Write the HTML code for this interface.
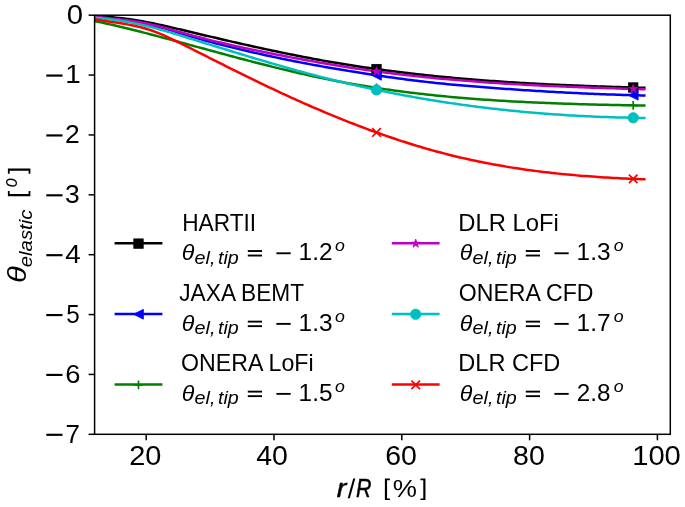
<!DOCTYPE html><html><head><meta charset="utf-8"><title>theta elastic vs r/R</title><style>html,body{margin:0;padding:0;background:#fff;overflow:hidden;}svg{display:block;}text{font-family:"Liberation Sans",sans-serif;fill:#000;}.gt{filter:grayscale(1);}</style></head><body>
<svg width="685" height="507" viewBox="0 0 685 507">
<rect width="685" height="507" fill="#fff"/>
<defs><clipPath id="ax"><rect x="94.6" y="15.2" width="575.7" height="419.1"/></clipPath></defs>
<g clip-path="url(#ax)" fill="none" stroke-linejoin="round" stroke-linecap="square">
<path d="M94.6,15.93 L97.7,16.13 L100.7,16.34 L103.8,16.57 L106.9,16.81 L110.0,17.07 L113.0,17.35 L116.1,17.65 L119.2,17.98 L122.2,18.32 L125.3,18.70 L128.4,19.10 L131.5,19.52 L134.5,19.98 L137.6,20.47 L140.7,20.99 L143.7,21.54 L146.8,22.11 L149.9,22.71 L152.9,23.33 L156.0,23.97 L159.1,24.63 L162.2,25.31 L165.2,26.00 L168.3,26.70 L171.4,27.41 L174.4,28.13 L177.5,28.85 L180.6,29.58 L183.7,30.32 L186.7,31.05 L189.8,31.78 L192.9,32.51 L195.9,33.24 L199.0,33.97 L202.1,34.69 L205.2,35.42 L208.2,36.14 L211.3,36.86 L214.4,37.58 L217.4,38.30 L220.5,39.01 L223.6,39.72 L226.7,40.43 L229.7,41.14 L232.8,41.85 L235.9,42.55 L238.9,43.24 L242.0,43.94 L245.1,44.63 L248.1,45.32 L251.2,46.00 L254.3,46.68 L257.4,47.36 L260.4,48.03 L263.5,48.70 L266.6,49.36 L269.6,50.02 L272.7,50.67 L275.8,51.32 L278.9,51.96 L281.9,52.60 L285.0,53.24 L288.1,53.86 L291.1,54.49 L294.2,55.10 L297.3,55.71 L300.4,56.32 L303.4,56.92 L306.5,57.51 L309.6,58.09 L312.6,58.67 L315.7,59.24 L318.8,59.81 L321.9,60.37 L324.9,60.92 L328.0,61.46 L331.1,62.00 L334.1,62.52 L337.2,63.05 L340.3,63.56 L343.3,64.06 L346.4,64.56 L349.5,65.05 L352.6,65.54 L355.6,66.02 L358.7,66.49 L361.8,66.95 L364.8,67.41 L367.9,67.85 L371.0,68.30 L374.1,68.73 L377.1,69.16 L380.2,69.58 L383.3,70.00 L386.3,70.41 L389.4,70.81 L392.5,71.21 L395.6,71.60 L398.6,71.98 L401.7,72.36 L404.8,72.73 L407.8,73.09 L410.9,73.45 L414.0,73.81 L417.0,74.15 L420.1,74.50 L423.2,74.83 L426.3,75.16 L429.3,75.49 L432.4,75.80 L435.5,76.12 L438.5,76.43 L441.6,76.73 L444.7,77.02 L447.8,77.32 L450.8,77.60 L453.9,77.88 L457.0,78.16 L460.0,78.43 L463.1,78.70 L466.2,78.96 L469.3,79.21 L472.3,79.47 L475.4,79.71 L478.5,79.96 L481.5,80.19 L484.6,80.43 L487.7,80.65 L490.8,80.88 L493.8,81.10 L496.9,81.31 L500.0,81.52 L503.0,81.73 L506.1,81.93 L509.2,82.13 L512.2,82.33 L515.3,82.52 L518.4,82.71 L521.5,82.89 L524.5,83.07 L527.6,83.24 L530.7,83.42 L533.7,83.58 L536.8,83.75 L539.9,83.91 L543.0,84.07 L546.0,84.22 L549.1,84.38 L552.2,84.52 L555.2,84.67 L558.3,84.81 L561.4,84.95 L564.5,85.09 L567.5,85.22 L570.6,85.35 L573.7,85.48 L576.7,85.60 L579.8,85.73 L582.9,85.85 L586.0,85.96 L589.0,86.08 L592.1,86.19 L595.2,86.30 L598.2,86.41 L601.3,86.52 L604.4,86.62 L607.4,86.72 L610.5,86.82 L613.6,86.92 L616.7,87.01 L619.7,87.11 L622.8,87.20 L625.9,87.29 L628.9,87.38 L632.0,87.46 L635.1,87.55 L638.2,87.63 L641.2,87.72 L644.3,87.80" stroke="#000000" stroke-width="2.5"/>
<path d="M94.6,16.83 L97.7,17.18 L100.7,17.53 L103.8,17.87 L106.9,18.21 L110.0,18.56 L113.0,18.91 L116.1,19.27 L119.2,19.64 L122.2,20.02 L125.3,20.43 L128.4,20.85 L131.5,21.31 L134.5,21.79 L137.6,22.30 L140.7,22.85 L143.7,23.43 L146.8,24.06 L149.9,24.72 L152.9,25.42 L156.0,26.16 L159.1,26.95 L162.2,27.78 L165.2,28.65 L168.3,29.56 L171.4,30.49 L174.4,31.43 L177.5,32.39 L180.6,33.35 L183.7,34.29 L186.7,35.23 L189.8,36.14 L192.9,37.04 L195.9,37.92 L199.0,38.79 L202.1,39.64 L205.2,40.48 L208.2,41.31 L211.3,42.12 L214.4,42.93 L217.4,43.73 L220.5,44.52 L223.6,45.30 L226.7,46.07 L229.7,46.84 L232.8,47.60 L235.9,48.34 L238.9,49.09 L242.0,49.82 L245.1,50.55 L248.1,51.26 L251.2,51.97 L254.3,52.68 L257.4,53.37 L260.4,54.06 L263.5,54.74 L266.6,55.41 L269.6,56.08 L272.7,56.74 L275.8,57.39 L278.9,58.03 L281.9,58.67 L285.0,59.30 L288.1,59.93 L291.1,60.55 L294.2,61.16 L297.3,61.76 L300.4,62.36 L303.4,62.95 L306.5,63.54 L309.6,64.12 L312.6,64.69 L315.7,65.26 L318.8,65.82 L321.9,66.37 L324.9,66.92 L328.0,67.46 L331.1,68.00 L334.1,68.53 L337.2,69.06 L340.3,69.58 L343.3,70.09 L346.4,70.60 L349.5,71.11 L352.6,71.60 L355.6,72.10 L358.7,72.59 L361.8,73.07 L364.8,73.55 L367.9,74.02 L371.0,74.49 L374.1,74.95 L377.1,75.41 L380.2,75.86 L383.3,76.31 L386.3,76.75 L389.4,77.18 L392.5,77.61 L395.6,78.03 L398.6,78.44 L401.7,78.85 L404.8,79.26 L407.8,79.65 L410.9,80.04 L414.0,80.42 L417.0,80.80 L420.1,81.16 L423.2,81.52 L426.3,81.88 L429.3,82.22 L432.4,82.56 L435.5,82.89 L438.5,83.21 L441.6,83.53 L444.7,83.84 L447.8,84.14 L450.8,84.44 L453.9,84.73 L457.0,85.01 L460.0,85.29 L463.1,85.56 L466.2,85.83 L469.3,86.09 L472.3,86.35 L475.4,86.60 L478.5,86.85 L481.5,87.09 L484.6,87.33 L487.7,87.57 L490.8,87.80 L493.8,88.02 L496.9,88.25 L500.0,88.47 L503.0,88.69 L506.1,88.90 L509.2,89.11 L512.2,89.32 L515.3,89.53 L518.4,89.73 L521.5,89.93 L524.5,90.13 L527.6,90.33 L530.7,90.53 L533.7,90.72 L536.8,90.91 L539.9,91.09 L543.0,91.27 L546.0,91.46 L549.1,91.63 L552.2,91.81 L555.2,91.98 L558.3,92.15 L561.4,92.31 L564.5,92.47 L567.5,92.63 L570.6,92.79 L573.7,92.94 L576.7,93.09 L579.8,93.24 L582.9,93.38 L586.0,93.52 L589.0,93.66 L592.1,93.79 L595.2,93.92 L598.2,94.04 L601.3,94.16 L604.4,94.28 L607.4,94.40 L610.5,94.51 L613.6,94.61 L616.7,94.72 L619.7,94.82 L622.8,94.91 L625.9,95.00 L628.9,95.09 L632.0,95.17 L635.1,95.25 L638.2,95.33 L641.2,95.40 L644.3,95.47" stroke="#0000ff" stroke-width="2.5"/>
<path d="M94.6,21.03 L97.7,21.68 L100.7,22.34 L103.8,23.01 L106.9,23.69 L110.0,24.38 L113.0,25.08 L116.1,25.80 L119.2,26.52 L122.2,27.25 L125.3,27.99 L128.4,28.74 L131.5,29.50 L134.5,30.27 L137.6,31.04 L140.7,31.82 L143.7,32.60 L146.8,33.40 L149.9,34.19 L152.9,35.00 L156.0,35.81 L159.1,36.62 L162.2,37.44 L165.2,38.26 L168.3,39.08 L171.4,39.91 L174.4,40.74 L177.5,41.57 L180.6,42.40 L183.7,43.23 L186.7,44.07 L189.8,44.90 L192.9,45.74 L195.9,46.58 L199.0,47.41 L202.1,48.25 L205.2,49.08 L208.2,49.92 L211.3,50.75 L214.4,51.58 L217.4,52.41 L220.5,53.24 L223.6,54.07 L226.7,54.89 L229.7,55.72 L232.8,56.54 L235.9,57.35 L238.9,58.17 L242.0,58.98 L245.1,59.78 L248.1,60.59 L251.2,61.39 L254.3,62.18 L257.4,62.97 L260.4,63.76 L263.5,64.54 L266.6,65.31 L269.6,66.08 L272.7,66.85 L275.8,67.60 L278.9,68.36 L281.9,69.10 L285.0,69.84 L288.1,70.57 L291.1,71.30 L294.2,72.02 L297.3,72.73 L300.4,73.43 L303.4,74.13 L306.5,74.81 L309.6,75.49 L312.6,76.16 L315.7,76.82 L318.8,77.47 L321.9,78.12 L324.9,78.75 L328.0,79.37 L331.1,79.99 L334.1,80.59 L337.2,81.18 L340.3,81.77 L343.3,82.34 L346.4,82.90 L349.5,83.46 L352.6,84.00 L355.6,84.53 L358.7,85.06 L361.8,85.58 L364.8,86.08 L367.9,86.58 L371.0,87.07 L374.1,87.55 L377.1,88.02 L380.2,88.48 L383.3,88.94 L386.3,89.38 L389.4,89.82 L392.5,90.24 L395.6,90.66 L398.6,91.08 L401.7,91.48 L404.8,91.87 L407.8,92.26 L410.9,92.64 L414.0,93.01 L417.0,93.38 L420.1,93.73 L423.2,94.08 L426.3,94.43 L429.3,94.76 L432.4,95.09 L435.5,95.41 L438.5,95.72 L441.6,96.03 L444.7,96.33 L447.8,96.62 L450.8,96.91 L453.9,97.19 L457.0,97.46 L460.0,97.73 L463.1,97.99 L466.2,98.24 L469.3,98.49 L472.3,98.73 L475.4,98.97 L478.5,99.20 L481.5,99.42 L484.6,99.64 L487.7,99.86 L490.8,100.06 L493.8,100.27 L496.9,100.46 L500.0,100.66 L503.0,100.84 L506.1,101.03 L509.2,101.20 L512.2,101.38 L515.3,101.55 L518.4,101.71 L521.5,101.87 L524.5,102.02 L527.6,102.17 L530.7,102.32 L533.7,102.46 L536.8,102.60 L539.9,102.73 L543.0,102.86 L546.0,102.99 L549.1,103.11 L552.2,103.23 L555.2,103.35 L558.3,103.46 L561.4,103.57 L564.5,103.67 L567.5,103.77 L570.6,103.87 L573.7,103.97 L576.7,104.06 L579.8,104.15 L582.9,104.24 L586.0,104.33 L589.0,104.41 L592.1,104.49 L595.2,104.57 L598.2,104.65 L601.3,104.72 L604.4,104.79 L607.4,104.86 L610.5,104.93 L613.6,105.00 L616.7,105.06 L619.7,105.12 L622.8,105.19 L625.9,105.25 L628.9,105.31 L632.0,105.36 L635.1,105.42 L638.2,105.48 L641.2,105.53 L644.3,105.58" stroke="#008000" stroke-width="2.5"/>
<path d="M94.6,16.50 L97.7,16.94 L100.7,17.34 L103.8,17.70 L106.9,18.05 L110.0,18.37 L113.0,18.69 L116.1,19.00 L119.2,19.32 L122.2,19.65 L125.3,19.99 L128.4,20.37 L131.5,20.78 L134.5,21.23 L137.6,21.73 L140.7,22.27 L143.7,22.86 L146.8,23.49 L149.9,24.16 L152.9,24.86 L156.0,25.59 L159.1,26.35 L162.2,27.14 L165.2,27.95 L168.3,28.77 L171.4,29.61 L174.4,30.47 L177.5,31.33 L180.6,32.20 L183.7,33.06 L186.7,33.93 L189.8,34.77 L192.9,35.61 L195.9,36.43 L199.0,37.24 L202.1,38.04 L205.2,38.82 L208.2,39.60 L211.3,40.36 L214.4,41.11 L217.4,41.86 L220.5,42.59 L223.6,43.31 L226.7,44.03 L229.7,44.73 L232.8,45.43 L235.9,46.12 L238.9,46.79 L242.0,47.47 L245.1,48.13 L248.1,48.78 L251.2,49.43 L254.3,50.08 L257.4,50.71 L260.4,51.34 L263.5,51.97 L266.6,52.58 L269.6,53.20 L272.7,53.80 L275.8,54.41 L278.9,55.01 L281.9,55.60 L285.0,56.19 L288.1,56.78 L291.1,57.36 L294.2,57.94 L297.3,58.52 L300.4,59.08 L303.4,59.65 L306.5,60.21 L309.6,60.76 L312.6,61.31 L315.7,61.86 L318.8,62.40 L321.9,62.93 L324.9,63.46 L328.0,63.98 L331.1,64.50 L334.1,65.01 L337.2,65.51 L340.3,66.01 L343.3,66.50 L346.4,66.98 L349.5,67.46 L352.6,67.93 L355.6,68.40 L358.7,68.86 L361.8,69.31 L364.8,69.75 L367.9,70.19 L371.0,70.62 L374.1,71.04 L377.1,71.46 L380.2,71.87 L383.3,72.27 L386.3,72.66 L389.4,73.05 L392.5,73.44 L395.6,73.81 L398.6,74.18 L401.7,74.54 L404.8,74.90 L407.8,75.25 L410.9,75.60 L414.0,75.94 L417.0,76.27 L420.1,76.60 L423.2,76.92 L426.3,77.23 L429.3,77.54 L432.4,77.85 L435.5,78.15 L438.5,78.44 L441.6,78.73 L444.7,79.01 L447.8,79.29 L450.8,79.56 L453.9,79.83 L457.0,80.09 L460.0,80.35 L463.1,80.60 L466.2,80.85 L469.3,81.09 L472.3,81.33 L475.4,81.56 L478.5,81.79 L481.5,82.01 L484.6,82.23 L487.7,82.45 L490.8,82.66 L493.8,82.86 L496.9,83.07 L500.0,83.26 L503.0,83.46 L506.1,83.65 L509.2,83.84 L512.2,84.02 L515.3,84.20 L518.4,84.37 L521.5,84.54 L524.5,84.71 L527.6,84.88 L530.7,85.04 L533.7,85.20 L536.8,85.35 L539.9,85.50 L543.0,85.65 L546.0,85.80 L549.1,85.94 L552.2,86.08 L555.2,86.22 L558.3,86.35 L561.4,86.48 L564.5,86.61 L567.5,86.73 L570.6,86.86 L573.7,86.98 L576.7,87.10 L579.8,87.21 L582.9,87.33 L586.0,87.44 L589.0,87.55 L592.1,87.66 L595.2,87.76 L598.2,87.87 L601.3,87.97 L604.4,88.07 L607.4,88.17 L610.5,88.27 L613.6,88.36 L616.7,88.46 L619.7,88.55 L622.8,88.64 L625.9,88.73 L628.9,88.82 L632.0,88.91 L635.1,88.99 L638.2,89.08 L641.2,89.17 L644.3,89.25" stroke="#bf00bf" stroke-width="2.5"/>
<path d="M94.6,17.59 L97.7,17.90 L100.7,18.23 L103.8,18.57 L106.9,18.93 L110.0,19.30 L113.0,19.69 L116.1,20.11 L119.2,20.55 L122.2,21.02 L125.3,21.52 L128.4,22.05 L131.5,22.62 L134.5,23.22 L137.6,23.85 L140.7,24.53 L143.7,25.24 L146.8,25.98 L149.9,26.75 L152.9,27.55 L156.0,28.37 L159.1,29.22 L162.2,30.09 L165.2,30.97 L168.3,31.87 L171.4,32.79 L174.4,33.72 L177.5,34.65 L180.6,35.59 L183.7,36.54 L186.7,37.48 L189.8,38.43 L192.9,39.38 L195.9,40.33 L199.0,41.28 L202.1,42.23 L205.2,43.18 L208.2,44.13 L211.3,45.08 L214.4,46.02 L217.4,46.97 L220.5,47.92 L223.6,48.86 L226.7,49.80 L229.7,50.74 L232.8,51.68 L235.9,52.62 L238.9,53.55 L242.0,54.48 L245.1,55.41 L248.1,56.34 L251.2,57.26 L254.3,58.18 L257.4,59.09 L260.4,60.00 L263.5,60.91 L266.6,61.82 L269.6,62.71 L272.7,63.61 L275.8,64.50 L278.9,65.38 L281.9,66.26 L285.0,67.14 L288.1,68.01 L291.1,68.87 L294.2,69.72 L297.3,70.58 L300.4,71.42 L303.4,72.26 L306.5,73.09 L309.6,73.91 L312.6,74.73 L315.7,75.54 L318.8,76.34 L321.9,77.13 L324.9,77.92 L328.0,78.70 L331.1,79.47 L334.1,80.23 L337.2,80.98 L340.3,81.73 L343.3,82.46 L346.4,83.19 L349.5,83.91 L352.6,84.62 L355.6,85.32 L358.7,86.02 L361.8,86.70 L364.8,87.38 L367.9,88.05 L371.0,88.71 L374.1,89.36 L377.1,90.01 L380.2,90.65 L383.3,91.28 L386.3,91.90 L389.4,92.51 L392.5,93.11 L395.6,93.71 L398.6,94.30 L401.7,94.88 L404.8,95.46 L407.8,96.02 L410.9,96.58 L414.0,97.13 L417.0,97.67 L420.1,98.20 L423.2,98.73 L426.3,99.25 L429.3,99.76 L432.4,100.26 L435.5,100.76 L438.5,101.25 L441.6,101.73 L444.7,102.20 L447.8,102.67 L450.8,103.12 L453.9,103.57 L457.0,104.02 L460.0,104.45 L463.1,104.88 L466.2,105.30 L469.3,105.71 L472.3,106.12 L475.4,106.52 L478.5,106.91 L481.5,107.30 L484.6,107.67 L487.7,108.04 L490.8,108.40 L493.8,108.76 L496.9,109.11 L500.0,109.45 L503.0,109.78 L506.1,110.11 L509.2,110.43 L512.2,110.74 L515.3,111.05 L518.4,111.35 L521.5,111.64 L524.5,111.92 L527.6,112.20 L530.7,112.47 L533.7,112.74 L536.8,113.00 L539.9,113.25 L543.0,113.49 L546.0,113.73 L549.1,113.96 L552.2,114.18 L555.2,114.40 L558.3,114.61 L561.4,114.82 L564.5,115.01 L567.5,115.20 L570.6,115.39 L573.7,115.57 L576.7,115.74 L579.8,115.90 L582.9,116.06 L586.0,116.21 L589.0,116.36 L592.1,116.50 L595.2,116.63 L598.2,116.76 L601.3,116.88 L604.4,117.00 L607.4,117.10 L610.5,117.21 L613.6,117.30 L616.7,117.39 L619.7,117.47 L622.8,117.55 L625.9,117.62 L628.9,117.69 L632.0,117.75 L635.1,117.80 L638.2,117.85 L641.2,117.89 L644.3,117.92" stroke="#00bfbf" stroke-width="2.5"/>
<path d="M94.6,19.27 L97.7,19.81 L100.7,20.31 L103.8,20.79 L106.9,21.26 L110.0,21.71 L113.0,22.16 L116.1,22.61 L119.2,23.08 L122.2,23.56 L125.3,24.07 L128.4,24.61 L131.5,25.19 L134.5,25.82 L137.6,26.50 L140.7,27.24 L143.7,28.06 L146.8,28.95 L149.9,29.92 L152.9,30.98 L156.0,32.12 L159.1,33.34 L162.2,34.62 L165.2,35.97 L168.3,37.36 L171.4,38.80 L174.4,40.28 L177.5,41.79 L180.6,43.31 L183.7,44.85 L186.7,46.40 L189.8,47.95 L192.9,49.50 L195.9,51.05 L199.0,52.60 L202.1,54.15 L205.2,55.70 L208.2,57.25 L211.3,58.80 L214.4,60.34 L217.4,61.89 L220.5,63.43 L223.6,64.98 L226.7,66.51 L229.7,68.05 L232.8,69.58 L235.9,71.11 L238.9,72.63 L242.0,74.15 L245.1,75.66 L248.1,77.17 L251.2,78.67 L254.3,80.17 L257.4,81.66 L260.4,83.14 L263.5,84.61 L266.6,86.08 L269.6,87.54 L272.7,88.99 L275.8,90.43 L278.9,91.86 L281.9,93.29 L285.0,94.71 L288.1,96.12 L291.1,97.52 L294.2,98.91 L297.3,100.29 L300.4,101.66 L303.4,103.03 L306.5,104.38 L309.6,105.73 L312.6,107.06 L315.7,108.39 L318.8,109.71 L321.9,111.01 L324.9,112.31 L328.0,113.60 L331.1,114.87 L334.1,116.14 L337.2,117.39 L340.3,118.64 L343.3,119.87 L346.4,121.09 L349.5,122.30 L352.6,123.50 L355.6,124.69 L358.7,125.87 L361.8,127.03 L364.8,128.19 L367.9,129.33 L371.0,130.46 L374.1,131.58 L377.1,132.68 L380.2,133.77 L383.3,134.85 L386.3,135.92 L389.4,136.98 L392.5,138.02 L395.6,139.05 L398.6,140.06 L401.7,141.07 L404.8,142.06 L407.8,143.03 L410.9,143.99 L414.0,144.94 L417.0,145.87 L420.1,146.79 L423.2,147.70 L426.3,148.59 L429.3,149.47 L432.4,150.33 L435.5,151.18 L438.5,152.01 L441.6,152.83 L444.7,153.63 L447.8,154.42 L450.8,155.19 L453.9,155.95 L457.0,156.69 L460.0,157.42 L463.1,158.13 L466.2,158.82 L469.3,159.51 L472.3,160.17 L475.4,160.83 L478.5,161.47 L481.5,162.09 L484.6,162.70 L487.7,163.30 L490.8,163.88 L493.8,164.45 L496.9,165.01 L500.0,165.56 L503.0,166.09 L506.1,166.61 L509.2,167.11 L512.2,167.61 L515.3,168.09 L518.4,168.56 L521.5,169.01 L524.5,169.46 L527.6,169.89 L530.7,170.31 L533.7,170.72 L536.8,171.12 L539.9,171.51 L543.0,171.89 L546.0,172.26 L549.1,172.61 L552.2,172.96 L555.2,173.29 L558.3,173.62 L561.4,173.93 L564.5,174.24 L567.5,174.54 L570.6,174.82 L573.7,175.10 L576.7,175.37 L579.8,175.63 L582.9,175.88 L586.0,176.12 L589.0,176.35 L592.1,176.57 L595.2,176.79 L598.2,177.00 L601.3,177.20 L604.4,177.39 L607.4,177.58 L610.5,177.75 L613.6,177.92 L616.7,178.09 L619.7,178.24 L622.8,178.39 L625.9,178.53 L628.9,178.67 L632.0,178.80 L635.1,178.92 L638.2,179.04 L641.2,179.15 L644.3,179.25" stroke="#ff0000" stroke-width="2.5"/>
</g>
<rect x="371.80" y="64.37" width="9.4" height="9.4" fill="#000000" stroke="#000000" stroke-width="0.8" stroke-linejoin="miter"/>
<rect x="628.50" y="82.80" width="9.4" height="9.4" fill="#000000" stroke="#000000" stroke-width="0.8" stroke-linejoin="miter"/>
<polygon points="371.60,75.32 381.40,70.42 381.40,80.22" fill="#0000ff" stroke="#0000ff" stroke-width="0.8"/>
<polygon points="628.30,95.20 638.10,90.30 638.10,100.10" fill="#0000ff" stroke="#0000ff" stroke-width="0.8"/>
<path d="M372.10,87.92H380.90M376.50,83.52V92.32" stroke="#008000" stroke-width="1.7" fill="none"/>
<path d="M628.80,105.39H637.60M633.20,100.99V109.79" stroke="#008000" stroke-width="1.7" fill="none"/>
<polygon points="376.50,66.77 377.53,69.95 380.87,69.95 378.17,71.92 379.20,75.09 376.50,73.13 373.80,75.09 374.83,71.92 372.13,69.95 375.47,69.95" fill="#bf00bf" stroke="#bf00bf" stroke-width="0.8" stroke-linejoin="miter"/>
<polygon points="633.20,84.34 634.23,87.52 637.57,87.52 634.87,89.48 635.90,92.66 633.20,90.70 630.50,92.66 631.53,89.48 628.83,87.52 632.17,87.52" fill="#bf00bf" stroke="#bf00bf" stroke-width="0.8" stroke-linejoin="miter"/>
<circle cx="376.50" cy="89.88" r="5.3" fill="#00bfbf" stroke="#00bfbf" stroke-width="0.6"/>
<circle cx="633.20" cy="117.77" r="5.3" fill="#00bfbf" stroke="#00bfbf" stroke-width="0.6"/>
<path d="M372.20,128.16L380.80,136.76M372.20,136.76L380.80,128.16" stroke="#ff0000" stroke-width="1.7" fill="none"/>
<path d="M628.90,174.55L637.50,183.15M628.90,183.15L637.50,174.55" stroke="#ff0000" stroke-width="1.7" fill="none"/>
<rect x="94.6" y="15.2" width="575.7" height="419.1" fill="none" stroke="#000" stroke-width="1.5"/>
<line x1="88.6" y1="15.20" x2="94.6" y2="15.20" stroke="#000" stroke-width="1.5"/>
<line x1="88.6" y1="75.07" x2="94.6" y2="75.07" stroke="#000" stroke-width="1.5"/>
<line x1="88.6" y1="134.94" x2="94.6" y2="134.94" stroke="#000" stroke-width="1.5"/>
<line x1="88.6" y1="194.81" x2="94.6" y2="194.81" stroke="#000" stroke-width="1.5"/>
<line x1="88.6" y1="254.69" x2="94.6" y2="254.69" stroke="#000" stroke-width="1.5"/>
<line x1="88.6" y1="314.56" x2="94.6" y2="314.56" stroke="#000" stroke-width="1.5"/>
<line x1="88.6" y1="374.43" x2="94.6" y2="374.43" stroke="#000" stroke-width="1.5"/>
<line x1="88.6" y1="434.30" x2="94.6" y2="434.30" stroke="#000" stroke-width="1.5"/>
<line x1="146.20" y1="434.3" x2="146.20" y2="440.3" stroke="#000" stroke-width="1.5"/>
<line x1="274.00" y1="434.3" x2="274.00" y2="440.3" stroke="#000" stroke-width="1.5"/>
<line x1="401.80" y1="434.3" x2="401.80" y2="440.3" stroke="#000" stroke-width="1.5"/>
<line x1="529.60" y1="434.3" x2="529.60" y2="440.3" stroke="#000" stroke-width="1.5"/>
<line x1="657.40" y1="434.3" x2="657.40" y2="440.3" stroke="#000" stroke-width="1.5"/>
<text class="gt" x="66.82" y="23.50" font-size="27" textLength="16.30" lengthAdjust="spacingAndGlyphs">0</text>
<text class="gt" x="65.15" y="83.37" font-size="26" textLength="15.52" lengthAdjust="spacingAndGlyphs">1</text>
<rect x="46.3" y="74.49" width="16.2" height="2.16" fill="#000"/>
<text class="gt" x="65.08" y="143.24" font-size="26" textLength="14.71" lengthAdjust="spacingAndGlyphs">2</text>
<rect x="46.3" y="134.36" width="16.2" height="2.16" fill="#000"/>
<text class="gt" x="65.08" y="203.11" font-size="26" textLength="14.71" lengthAdjust="spacingAndGlyphs">3</text>
<rect x="46.3" y="194.23" width="16.2" height="2.16" fill="#000"/>
<text class="gt" x="65.23" y="262.99" font-size="26" textLength="15.47" lengthAdjust="spacingAndGlyphs">4</text>
<rect x="46.3" y="254.11" width="16.2" height="2.16" fill="#000"/>
<text class="gt" x="66.17" y="322.86" font-size="26" textLength="13.50" lengthAdjust="spacingAndGlyphs">5</text>
<rect x="46.3" y="313.98" width="16.2" height="2.16" fill="#000"/>
<text class="gt" x="65.25" y="382.73" font-size="26" textLength="15.19" lengthAdjust="spacingAndGlyphs">6</text>
<rect x="46.3" y="373.85" width="16.2" height="2.16" fill="#000"/>
<text class="gt" x="65.50" y="442.60" font-size="26" textLength="14.47" lengthAdjust="spacingAndGlyphs">7</text>
<rect x="46.3" y="433.72" width="16.2" height="2.16" fill="#000"/>
<text class="gt" x="129.24" y="465.00" font-size="27.3" textLength="32.22" lengthAdjust="spacingAndGlyphs">20</text>
<text class="gt" x="256.16" y="465.00" font-size="27.3" textLength="31.68" lengthAdjust="spacingAndGlyphs">40</text>
<text class="gt" x="385.26" y="465.00" font-size="27.3" textLength="31.68" lengthAdjust="spacingAndGlyphs">60</text>
<text class="gt" x="513.06" y="465.00" font-size="27.3" textLength="31.68" lengthAdjust="spacingAndGlyphs">80</text>
<text class="gt" x="632.16" y="465.00" font-size="27.3" textLength="48.69" lengthAdjust="spacingAndGlyphs">100</text>
<text class="gt" x="336.79" y="497.00" font-size="26" font-style="italic" textLength="9.64" lengthAdjust="spacingAndGlyphs" stroke="#000" stroke-width="0.45">r</text>
<polygon points="347.7,498.3 349.8,498.3 355.3,478.5 353.2,478.5" fill="#000"/>
<text class="gt" x="356.08" y="497.00" font-size="26" font-style="italic" textLength="15.47" lengthAdjust="spacingAndGlyphs" stroke="#000" stroke-width="0.45">R</text>
<polygon points="384.88,478.51 389.89,478.51 389.89,480.20 387.06,480.20 387.06,498.40 389.89,498.40 389.89,500.09 384.88,500.09" fill="#000"/>
<text class="gt" x="392.79" y="497.00" font-size="24.5" textLength="24.19" lengthAdjust="spacingAndGlyphs">%</text>
<polygon points="425.46,478.51 425.46,500.09 420.45,500.09 420.45,498.40 423.28,498.40 423.28,480.20 420.45,480.20 420.45,478.51" fill="#000"/>
<g transform="translate(26.0,282.3) rotate(-90)">
<text class="gt" x="-0.69" y="0.00" font-size="26" font-style="italic" textLength="16.82" lengthAdjust="spacingAndGlyphs">θ</text>
<text class="gt" x="15.00" y="5.60" font-size="18.6" font-style="italic" textLength="57.78" lengthAdjust="spacingAndGlyphs">elastic</text>
<polygon points="86.07,-18.10 91.28,-18.10 91.28,-16.34 88.34,-16.34 88.34,2.61 91.28,2.61 91.28,4.38 86.07,4.38" fill="#000"/>
<g transform="translate(0,-9.0)">
<text class="gt" x="95.06" y="0.00" font-size="19.7" font-style="italic" textLength="9.25" lengthAdjust="spacingAndGlyphs">o</text>
</g>
<polygon points="113.86,-18.10 113.86,4.38 108.64,4.38 108.64,2.61 111.59,2.61 111.59,-16.34 108.64,-16.34 108.64,-18.10" fill="#000"/>
</g>
<line x1="114.6" y1="243.30" x2="162.4" y2="243.30" stroke="#000000" stroke-width="2.5"/>
<rect x="133.80" y="238.90" width="9.4" height="9.4" fill="#000000" stroke="#000000" stroke-width="0.8" stroke-linejoin="miter"/>
<text class="gt" x="182.21" y="230.80" font-size="24" textLength="73.90" lengthAdjust="spacingAndGlyphs">HARTII</text>
<text class="gt" x="181.89" y="260.40" font-size="23" font-style="italic" textLength="12.60" lengthAdjust="spacingAndGlyphs">θ</text>
<text class="gt" x="194.54" y="263.80" font-size="18.6" font-style="italic" textLength="20.87" lengthAdjust="spacingAndGlyphs">el,</text>
<text class="gt" x="217.94" y="263.80" font-size="18.6" font-style="italic" textLength="20.73" lengthAdjust="spacingAndGlyphs">tip</text>
<rect x="247.80" y="250.09" width="14.2" height="1.88" fill="#000"/>
<rect x="247.80" y="254.61" width="14.2" height="1.88" fill="#000"/>
<rect x="276.40" y="252.34" width="14.3" height="1.88" fill="#000"/>
<text class="gt" x="298.57" y="260.40" font-size="24" textLength="33.93" lengthAdjust="spacingAndGlyphs">1.2</text>
<g transform="translate(0,251.40)">
<text class="gt" x="334.98" y="0.00" font-size="17.3" font-style="italic" textLength="9.87" lengthAdjust="spacingAndGlyphs">o</text>
</g>
<line x1="114.6" y1="313.95" x2="162.4" y2="313.95" stroke="#0000ff" stroke-width="2.5"/>
<polygon points="133.60,314.25 143.40,309.35 143.40,319.15" fill="#0000ff" stroke="#0000ff" stroke-width="0.8"/>
<text class="gt" x="179.25" y="301.40" font-size="24" textLength="124.89" lengthAdjust="spacingAndGlyphs">JAXA BEMT</text>
<text class="gt" x="181.89" y="331.00" font-size="23" font-style="italic" textLength="12.60" lengthAdjust="spacingAndGlyphs">θ</text>
<text class="gt" x="194.54" y="334.40" font-size="18.6" font-style="italic" textLength="20.87" lengthAdjust="spacingAndGlyphs">el,</text>
<text class="gt" x="217.94" y="334.40" font-size="18.6" font-style="italic" textLength="20.73" lengthAdjust="spacingAndGlyphs">tip</text>
<rect x="247.80" y="320.69" width="14.2" height="1.88" fill="#000"/>
<rect x="247.80" y="325.21" width="14.2" height="1.88" fill="#000"/>
<rect x="276.40" y="322.94" width="14.3" height="1.88" fill="#000"/>
<text class="gt" x="298.57" y="331.00" font-size="24" textLength="33.93" lengthAdjust="spacingAndGlyphs">1.3</text>
<g transform="translate(0,322.00)">
<text class="gt" x="334.98" y="0.00" font-size="17.3" font-style="italic" textLength="9.87" lengthAdjust="spacingAndGlyphs">o</text>
</g>
<line x1="114.6" y1="384.60" x2="162.4" y2="384.60" stroke="#008000" stroke-width="2.5"/>
<path d="M134.10,384.90H142.90M138.50,380.50V389.30" stroke="#008000" stroke-width="1.7" fill="none"/>
<text class="gt" x="181.03" y="370.90" font-size="24" textLength="132.61" lengthAdjust="spacingAndGlyphs">ONERA LoFi</text>
<text class="gt" x="181.89" y="401.00" font-size="23" font-style="italic" textLength="12.60" lengthAdjust="spacingAndGlyphs">θ</text>
<text class="gt" x="194.54" y="404.40" font-size="18.6" font-style="italic" textLength="20.87" lengthAdjust="spacingAndGlyphs">el,</text>
<text class="gt" x="217.94" y="404.40" font-size="18.6" font-style="italic" textLength="20.73" lengthAdjust="spacingAndGlyphs">tip</text>
<rect x="247.80" y="390.69" width="14.2" height="1.88" fill="#000"/>
<rect x="247.80" y="395.21" width="14.2" height="1.88" fill="#000"/>
<rect x="276.40" y="392.94" width="14.3" height="1.88" fill="#000"/>
<text class="gt" x="298.57" y="401.00" font-size="24" textLength="33.93" lengthAdjust="spacingAndGlyphs">1.5</text>
<g transform="translate(0,392.00)">
<text class="gt" x="334.98" y="0.00" font-size="17.3" font-style="italic" textLength="9.87" lengthAdjust="spacingAndGlyphs">o</text>
</g>
<line x1="391.8" y1="243.30" x2="439.6" y2="243.30" stroke="#bf00bf" stroke-width="2.5"/>
<polygon points="415.70,239.00 416.73,242.18 420.07,242.18 417.37,244.14 418.40,247.32 415.70,245.36 413.00,247.32 414.03,244.14 411.33,242.18 414.67,242.18" fill="#bf00bf" stroke="#bf00bf" stroke-width="0.8" stroke-linejoin="miter"/>
<text class="gt" x="458.32" y="230.80" font-size="24" textLength="100.44" lengthAdjust="spacingAndGlyphs">DLR LoFi</text>
<text class="gt" x="459.89" y="260.40" font-size="23" font-style="italic" textLength="12.60" lengthAdjust="spacingAndGlyphs">θ</text>
<text class="gt" x="472.54" y="263.80" font-size="18.6" font-style="italic" textLength="20.87" lengthAdjust="spacingAndGlyphs">el,</text>
<text class="gt" x="495.94" y="263.80" font-size="18.6" font-style="italic" textLength="20.73" lengthAdjust="spacingAndGlyphs">tip</text>
<rect x="525.80" y="250.09" width="14.2" height="1.88" fill="#000"/>
<rect x="525.80" y="254.61" width="14.2" height="1.88" fill="#000"/>
<rect x="554.40" y="252.34" width="14.3" height="1.88" fill="#000"/>
<text class="gt" x="576.57" y="260.40" font-size="24" textLength="33.93" lengthAdjust="spacingAndGlyphs">1.3</text>
<g transform="translate(0,251.40)">
<text class="gt" x="613.68" y="0.00" font-size="17.3" font-style="italic" textLength="9.87" lengthAdjust="spacingAndGlyphs">o</text>
</g>
<line x1="391.8" y1="313.95" x2="439.6" y2="313.95" stroke="#00bfbf" stroke-width="2.5"/>
<circle cx="415.70" cy="314.25" r="5.3" fill="#00bfbf" stroke="#00bfbf" stroke-width="0.6"/>
<text class="gt" x="458.84" y="301.40" font-size="24" textLength="134.64" lengthAdjust="spacingAndGlyphs">ONERA CFD</text>
<text class="gt" x="459.89" y="331.00" font-size="23" font-style="italic" textLength="12.60" lengthAdjust="spacingAndGlyphs">θ</text>
<text class="gt" x="472.54" y="334.40" font-size="18.6" font-style="italic" textLength="20.87" lengthAdjust="spacingAndGlyphs">el,</text>
<text class="gt" x="495.94" y="334.40" font-size="18.6" font-style="italic" textLength="20.73" lengthAdjust="spacingAndGlyphs">tip</text>
<rect x="525.80" y="320.69" width="14.2" height="1.88" fill="#000"/>
<rect x="525.80" y="325.21" width="14.2" height="1.88" fill="#000"/>
<rect x="554.40" y="322.94" width="14.3" height="1.88" fill="#000"/>
<text class="gt" x="576.57" y="331.00" font-size="24" textLength="33.93" lengthAdjust="spacingAndGlyphs">1.7</text>
<g transform="translate(0,322.00)">
<text class="gt" x="613.68" y="0.00" font-size="17.3" font-style="italic" textLength="9.87" lengthAdjust="spacingAndGlyphs">o</text>
</g>
<line x1="391.8" y1="384.60" x2="439.6" y2="384.60" stroke="#ff0000" stroke-width="2.5"/>
<path d="M411.40,380.60L420.00,389.20M411.40,389.20L420.00,380.60" stroke="#ff0000" stroke-width="1.7" fill="none"/>
<text class="gt" x="458.34" y="370.90" font-size="24" textLength="101.96" lengthAdjust="spacingAndGlyphs">DLR CFD</text>
<text class="gt" x="459.89" y="401.00" font-size="23" font-style="italic" textLength="12.60" lengthAdjust="spacingAndGlyphs">θ</text>
<text class="gt" x="472.54" y="404.40" font-size="18.6" font-style="italic" textLength="20.87" lengthAdjust="spacingAndGlyphs">el,</text>
<text class="gt" x="495.94" y="404.40" font-size="18.6" font-style="italic" textLength="20.73" lengthAdjust="spacingAndGlyphs">tip</text>
<rect x="525.80" y="390.69" width="14.2" height="1.88" fill="#000"/>
<rect x="525.80" y="395.21" width="14.2" height="1.88" fill="#000"/>
<rect x="554.40" y="392.94" width="14.3" height="1.88" fill="#000"/>
<text class="gt" x="576.79" y="401.00" font-size="24" textLength="33.70" lengthAdjust="spacingAndGlyphs">2.8</text>
<g transform="translate(0,392.00)">
<text class="gt" x="613.68" y="0.00" font-size="17.3" font-style="italic" textLength="9.87" lengthAdjust="spacingAndGlyphs">o</text>
</g>
</svg></body></html>
